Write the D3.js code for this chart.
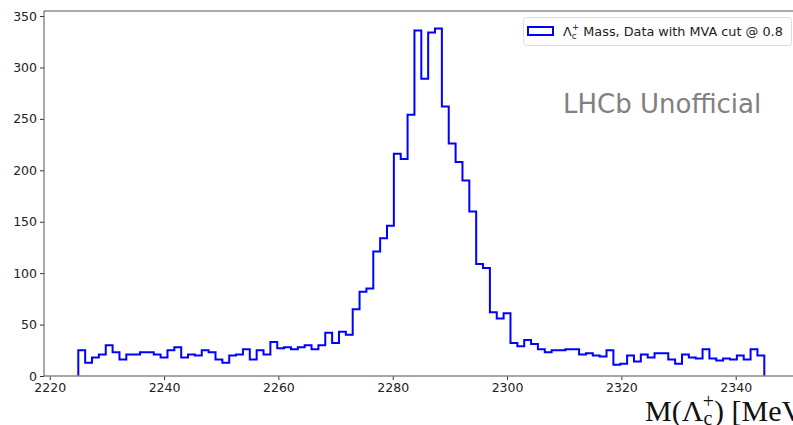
<!DOCTYPE html>
<html>
<head>
<meta charset="utf-8">
<script src="https://cdn.jsdelivr.net/npm/d3@7"></script>
<style>
  html, body { margin: 0; padding: 0; background: #fff; }
  svg { display: block; }
</style>
</head>
<body>
<svg id="chart" width="793" height="425"></svg>
<script>
// Λc+ candidate mass spectrum, 1.2 MeV bins from 2225 to 2345 MeV
const binLow = 2225;
const binWidth = 1.2;
const counts = [
  25, 13, 18, 21, 30, 23, 16, 21, 21, 23,
  23, 21, 18, 25, 28, 18, 21, 20, 25, 23,
  16, 13, 20, 21, 26, 16, 25, 21, 33, 27,
  28, 26, 28, 30, 26, 30, 42, 32, 43, 40,
  65, 82, 85, 121, 134, 146, 216, 211, 254, 336,
  289, 334, 338, 262, 226, 208, 190, 160, 109, 105,
  62, 56, 61, 32, 29, 35, 31, 26, 23, 25,
  25, 26, 26, 21, 22, 20, 19, 25, 11, 12,
  20, 14, 21, 18, 22, 22, 16, 12, 21, 18,
  17, 26, 17, 15, 17, 16, 20, 16, 26, 20
];
const binEdges = d3.range(counts.length + 1).map(i => binLow + i * binWidth);

const xTicks = [2220, 2240, 2260, 2280, 2300, 2320, 2340];
const yTicks = [0, 50, 100, 150, 200, 250, 300, 350];

const legendLabel = " Mass, Data with MVA cut @ 0.8";
const watermark = "LHCb Unofficial";

const sans = "DejaVu Sans, sans-serif";
const serif = "Liberation Serif, DejaVu Serif, serif";

const svg = d3.select("#chart");

// axes box: x limits padded 5% around the binned range, y up to 5% above the tallest bin
const xPad = 0.05 * (binEdges[binEdges.length - 1] - binEdges[0]);
const x = d3.scaleLinear()
  .domain([binEdges[0] - xPad, binEdges[binEdges.length - 1] + xPad])
  .range([44, 798.6]);
const y = d3.scaleLinear()
  .domain([0, d3.max(counts) * 1.05])
  .range([376, 11]);

const plotL = x.range()[0], plotR = x.range()[1];
const plotT = y.range()[1], plotB = y.range()[0];

// step outline of the histogram
const pts = [[binEdges[0], 0]];
counts.forEach((c, i) => {
  pts.push([binEdges[i], c]);
  pts.push([binEdges[i + 1], c]);
});
pts.push([binEdges[binEdges.length - 1], 0]);

const line = d3.line().x(d => x(d[0])).y(d => y(d[1]));

svg.append("clipPath").attr("id", "plotclip")
  .append("rect").attr("x", plotL).attr("y", plotT)
  .attr("width", plotR - plotL).attr("height", plotB - plotT);

svg.append("path")
  .datum(pts)
  .attr("clip-path", "url(#plotclip)")
  .attr("fill", "none")
  .attr("stroke", "#0000ff")
  .attr("stroke-width", 2)
  .attr("stroke-linejoin", "miter")
  .attr("d", line);

// x axis
const xAxis = svg.append("g")
  .attr("transform", `translate(0,${plotB})`)
  .call(d3.axisBottom(x).tickValues(xTicks).tickFormat(d3.format("d"))
    .tickSize(4).tickPadding(3).tickSizeOuter(0));
xAxis.select(".domain").remove();
xAxis.selectAll(".tick line").attr("stroke", "#333").attr("stroke-width", 1);
xAxis.selectAll(".tick text").style("font-family", sans).style("font-size", "12.5px")
  .attr("fill", "#222");

// y axis
const yAxis = svg.append("g")
  .attr("transform", `translate(${plotL},0)`)
  .call(d3.axisLeft(y).tickValues(yTicks).tickFormat(d3.format("d"))
    .tickSize(4).tickPadding(3).tickSizeOuter(0));
yAxis.select(".domain").remove();
yAxis.selectAll(".tick line").attr("stroke", "#333").attr("stroke-width", 1);
yAxis.selectAll(".tick text").style("font-family", sans).style("font-size", "12.5px")
  .attr("fill", "#222");

// frame
svg.append("line").attr("x1", plotL).attr("x2", plotR).attr("y1", plotT).attr("y2", plotT)
  .attr("stroke", "#555").attr("stroke-width", 1);
svg.append("line").attr("x1", plotL).attr("x2", plotR).attr("y1", plotB).attr("y2", plotB)
  .attr("stroke", "#888").attr("stroke-width", 1.5);
svg.append("line").attr("x1", plotL).attr("x2", plotL).attr("y1", plotT).attr("y2", plotB)
  .attr("stroke", "#555").attr("stroke-width", 1);
svg.append("line").attr("x1", plotR).attr("x2", plotR).attr("y1", plotT).attr("y2", plotB)
  .attr("stroke", "#555").attr("stroke-width", 1);

// legend
const lg = svg.append("g");
lg.append("rect").attr("x", 523.5).attr("y", 17.5).attr("width", 268).attr("height", 28)
  .attr("rx", 3).attr("fill", "#fff").attr("fill-opacity", 0.8)
  .attr("stroke", "#ddd").attr("stroke-width", 1);
lg.append("rect").attr("x", 528).attr("y", 27).attr("width", 25).attr("height", 8)
  .attr("fill", "none").attr("stroke", "#0000ff").attr("stroke-width", 2);
const lt = lg.append("text").attr("x", 563).attr("y", 36)
  .style("font-family", sans).style("font-size", "12.8px").attr("fill", "#222");
lt.append("tspan").text("Λ");
lt.append("tspan").style("font-size", "9px").attr("dy", 3).text("c");
lt.append("tspan").style("font-size", "9px").attr("dx", -5).attr("dy", -9).text("+");
lt.append("tspan").attr("dy", 6).text(legendLabel);

// watermark
svg.append("text").attr("x", 563).attr("y", 113)
  .style("font-family", sans).style("font-size", "26px")
  .attr("fill", "#808080").text(watermark);

// x axis title (runs off the right edge of the figure)
const xt = svg.append("text").attr("x", 645).attr("y", 421)
  .style("font-family", serif).style("font-size", "30px").attr("fill", "#111");
xt.append("tspan").text("M(Λ");
xt.append("tspan").style("font-size", "20px").attr("dy", 4).text("c");
xt.append("tspan").style("font-size", "20px").attr("dx", -9.5).attr("dy", -17).text("+");
xt.append("tspan").attr("dy", 13).text(") [MeV/c²]");
</script>
</body>
</html>
